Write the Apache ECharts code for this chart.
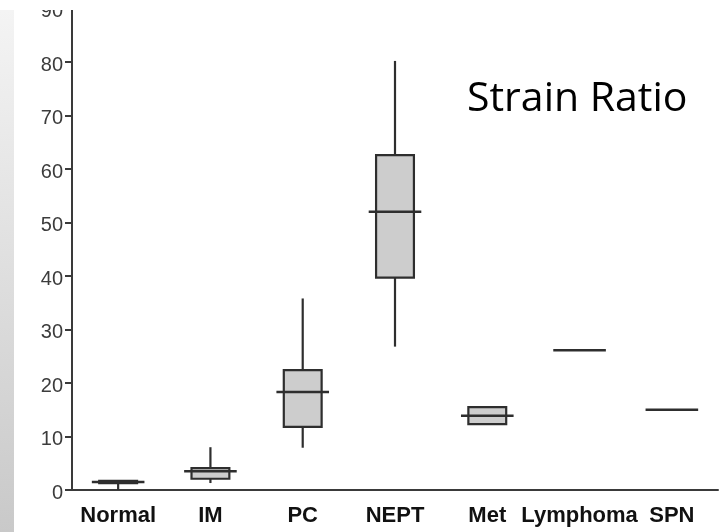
<!DOCTYPE html>
<html>
<head>
<meta charset="utf-8">
<script src="https://cdn.jsdelivr.net/npm/echarts@6/dist/echarts.min.js"></script>
<style>html,body{margin:0;padding:0;background:#fff;}#c{width:720px;height:532px;}</style>
</head>
<body>
<div id="c"></div>
<script>
var categories = ['Normal', 'IM', 'PC', 'NEPT', 'Met', 'Lymphoma', 'SPN'];
// [min, Q1, median, Q3, max]
var boxValues = [
  [0, 1.3, 1.5, 1.7, 1.7],
  [1.3, 2.1, 3.5, 4.1, 8.0],
  [7.9, 11.8, 18.3, 22.4, 35.8],
  [26.8, 39.7, 52.0, 62.6, 80.2],
  [12.3, 12.3, 13.9, 15.5, 15.5],
  [26.1, 26.1, 26.1, 26.1, 26.1],
  [15.0, 15.0, 15.0, 15.0, 15.0]
];
var yTicks = [0, 10, 20, 30, 40, 50, 60, 70, 80, 90];
var title = 'Strain Ratio';

var data = boxValues.map(function (v, i) { return [i].concat(v); });
var lineColor = '#2e2e2e';

var chart = echarts.init(document.getElementById('c'));
chart.setOption({
  backgroundColor: '#fff',
  animation: false,
  grid: { left: 72, right: 2, top: 8.5, bottom: 42 },
  xAxis: {
    type: 'category',
    data: categories,
    axisLine: { lineStyle: { color: '#3a3a3a', width: 2 } },
    axisTick: { show: false },
    axisLabel: { color: '#111', fontWeight: 'bold', fontSize: 22, fontFamily: 'Liberation Sans, Arial', margin: 15, interval: 0 }
  },
  yAxis: {
    type: 'value', min: 0, max: 90, interval: 10,
    splitLine: { show: false },
    axisLine: { show: true, lineStyle: { color: '#3a3a3a', width: 2 } },
    axisTick: { show: true, length: 7, lineStyle: { color: '#3a3a3a', width: 2 } },
    axisLabel: { color: '#3c3c3c', fontSize: 20, fontFamily: 'Liberation Sans, Arial', margin: 9,
      formatter: function (v) { return yTicks.indexOf(v) >= 0 ? '{a|' + v + '}' : ''; },
      rich: { a: { color: '#3c3c3c', fontSize: 20, fontFamily: 'Liberation Sans, Arial', padding: [6, 0, 0, 0] } } }
  },
  graphic: [
    { type: 'rect', left: 0, top: 0, shape: { width: 720, height: 10 }, style: { fill: '#fff' }, z: 100 },
    { type: 'rect', left: 0, top: 10, shape: { width: 14, height: 522 },
      style: { fill: new echarts.graphic.LinearGradient(0, 0, 0, 1, [{ offset: 0, color: '#f4f4f4' }, { offset: 1, color: '#c9c9c9' }]) }, z: 100 },
    { type: 'text', left: 467, top: 79, style: { text: title, fill: '#000', font: '41px "Open Sans", sans-serif' }, z: 100 }
  ],
  series: [{
    type: 'custom',
    data: data,
    encode: { x: 0, y: [1, 2, 3, 4, 5] },
    renderItem: function (params, api) {
      var idx = api.value(0);
      var mn = api.coord([idx, api.value(1)]);
      var q1 = api.coord([idx, api.value(2)]);
      var md = api.coord([idx, api.value(3)]);
      var q3 = api.coord([idx, api.value(4)]);
      var mx = api.coord([idx, api.value(5)]);
      var band = api.size([1, 0])[0];
      var bw = band * 0.41;
      var mw = band * 0.57;
      var x = md[0];
      var children = [];
      var ls = { stroke: lineColor, lineWidth: 2.2 };
      if (mx[1] < q3[1] - 0.5) children.push({ type: 'line', shape: { x1: x, y1: mx[1], x2: x, y2: q3[1] }, style: ls });
      if (mn[1] > q1[1] + 0.5) children.push({ type: 'line', shape: { x1: x, y1: q1[1], x2: x, y2: mn[1] }, style: ls });
      if (q1[1] - q3[1] > 0.5) children.push({ type: 'rect', shape: { x: x - bw / 2, y: q3[1], width: bw, height: q1[1] - q3[1] }, style: { fill: '#cdcdcd', stroke: lineColor, lineWidth: 2.2 } });
      children.push({ type: 'line', shape: { x1: x - mw / 2, y1: md[1], x2: x + mw / 2, y2: md[1] }, style: { stroke: lineColor, lineWidth: 2.5 } });
      return { type: 'group', children: children };
    }
  }]
});
</script>
</body>
</html>
